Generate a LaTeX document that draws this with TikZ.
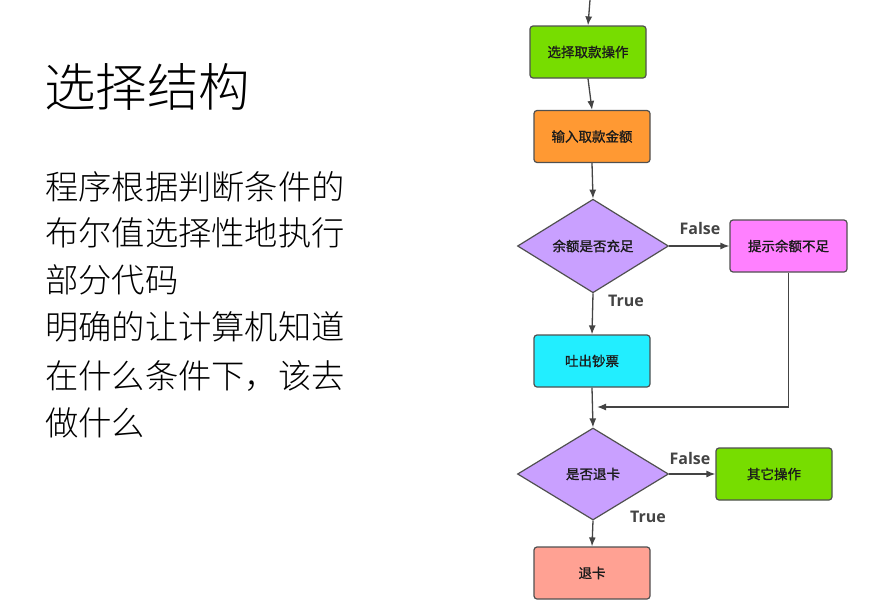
\documentclass[tikz,border=0pt]{standalone}
\usepackage{fontspec}
\usetikzlibrary{shapes.geometric,arrows.meta}
\newfontfamily\cjk{Noto Sans CJK SC}[AutoFakeBold=1.2]
\newfontfamily\cjklight{Noto Sans CJK SC}[UprightFont=* Light]
\newfontfamily\latinlbl{Open Sans}
\definecolor{lnk}{HTML}{444444}
\definecolor{edge}{HTML}{505050}
\definecolor{fgreen}{HTML}{77DD00}
\definecolor{forange}{HTML}{FF9933}
\definecolor{fpink}{HTML}{FF80FF}
\definecolor{fpurple}{HTML}{C9A0FF}
\definecolor{fcyan}{HTML}{22EEFF}
\definecolor{fsalmon}{HTML}{FFA193}
\definecolor{txt}{HTML}{222222}
\tikzset{
  procbox/.style={draw=edge, line width=1.2pt, rounded corners=3pt,
    minimum width=116pt, minimum height=52pt, inner sep=0pt,
    font=\cjk\bfseries\fontsize{13.5}{15}\selectfont, text=txt!80!black},
  decision/.style={draw=edge, line width=1.2pt, diamond, fill=fpurple,
    minimum width=151pt, minimum height=92pt, inner sep=0pt,
    font=\cjk\bfseries\fontsize{13.5}{15}\selectfont, text=txt!80!black},
  flow/.style={draw=lnk, line width=1.3pt, -{Latex[length=9pt,width=7pt]}},
  branch/.style={font=\latinlbl\bfseries\fontsize{16}{18}\selectfont, text=lnk},
  bodytext/.style={anchor=west, inner sep=0pt, text=black,
    font=\cjklight\fontsize{33.3}{38}\selectfont}
}
\begin{document}
\begin{tikzpicture}[x=1pt,y=-1pt]
\useasboundingbox[fill=white] (0,0) rectangle (871,603);

% heading and explanatory lines
\node[bodytext, font=\cjklight\fontsize{51.5}{58}\selectfont] (title) at (44,87) {选择结构};
\node[bodytext] (l1) at (45,187) {程序根据判断条件的};
\node[bodytext] (l2) at (45,233) {布尔值选择性地执行};
\node[bodytext] (l3) at (45,280) {部分代码};
\node[bodytext] (l4) at (45,327) {明确的让计算机知道};
\node[bodytext] (l5) at (45,376) {在什么条件下，该去};
\node[bodytext] (l6) at (45,423) {做什么};

% flowchart nodes
\coordinate (start) at (590,0);
\node[procbox, fill=fgreen] (b1) at (588,52) {选择取款操作};
\node[procbox, fill=forange] (b2) at (592,136.5) {输入取款金额};
\node[decision] (d1) at (593,246) {余额是否充足};
\node[procbox, fill=fpink, minimum width=117pt] (b3) at (788.5,246) {提示余额不足};
\node[procbox, fill=fcyan] (b4) at (592,361) {吐出钞票};
\node[decision] (d2) at (593,474) {是否退卡};
\node[procbox, fill=fgreen] (b5) at (774,474) {其它操作};
\node[procbox, fill=fsalmon] (b6) at (592,573) {退卡};
\coordinate (merge) at (597,407);

% connectors
\draw[flow] (start) -- (b1.north);
\draw[flow] (b1.south) -- (b2.north);
\draw[flow] (b2.south) -- (d1.north);
\draw[flow] (d1.east) -- (b3.west);
\draw[flow] (d1.south) -- (b4.north);
\draw[flow] (b4.south) -- (d2.north);
\draw[flow] (b3.south) |- (merge);
\draw[flow] (d2.east) -- (b5.west);
\draw[flow] (d2.south) -- (b6.north);

% branch labels
\node[branch] (f1) at (700,228) {False};
\node[branch] (t1) at (626,301) {True};
\node[branch] (f2) at (690,458) {False};
\node[branch] (t2) at (648,517) {True};
\end{tikzpicture}
\end{document}
